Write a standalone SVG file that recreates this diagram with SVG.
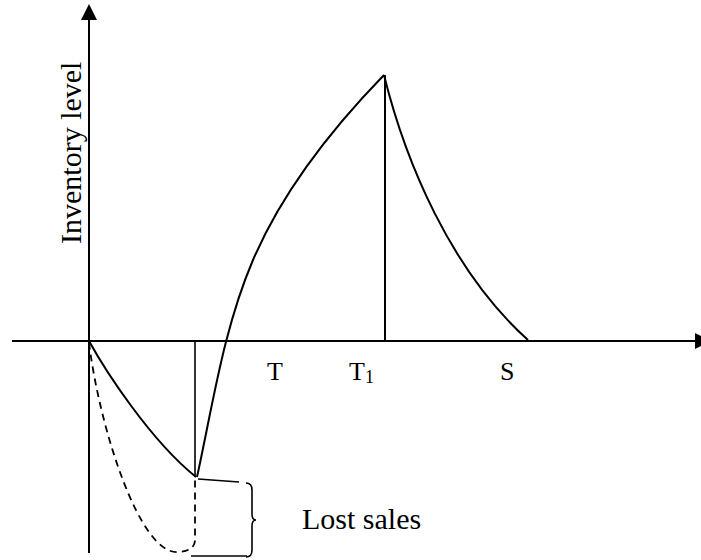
<svg xmlns="http://www.w3.org/2000/svg" width="701" height="560" viewBox="0 0 701 560">
<style>
.ln{fill:none;stroke:#000;stroke-width:2;stroke-linecap:butt}
.thin{fill:none;stroke:#000;stroke-width:1.6}
.dash{fill:none;stroke:#000;stroke-width:1.8;stroke-dasharray:7,5}
.lbl{font-family:"Liberation Serif","Times New Roman",serif;fill:#000}
</style>
<rect width="701" height="560" fill="#fff"/>
<g id="axes">
<path class="ln" d="M12,341 L695,341"/>
<path d="M695,333 L711,341 L695,349 Z" fill="#000"/>
<path class="ln" d="M89,553 L89,20"/>
<path d="M81,20 L89,4 L97,20 Z" fill="#000"/>
</g>
<g id="connectors">
<path class="ln" d="M89,341 C105,370 150,440 196,477"/>
<path class="dash" d="M89,343 C100,430 140,555 178,552 Q195,551 195,540 L195,478"/>
<path class="thin" d="M195,341 L195,477"/>
<path class="ln" d="M197,477 C213,404 223.5,329 253,260 C283,190 331,129.5 384,75"/>
<path class="ln" d="M385,75 L385,341"/>
<path class="ln" d="M384,75 C405,160 450,270 528,340"/>
<path class="thin" d="M198,479 L239,482"/>
<path class="thin" d="M191,556 L247,556"/>
<path class="thin" d="M246,483 Q252,483 252,490 L252,514 Q252,520 256,520 Q252,520 252,526 L252,550 Q252,557 246,557"/>
</g>
<g id="labels">
<text class="lbl" font-size="30" transform="translate(81,244) rotate(-90)">Inventory level</text>
<text class="lbl" font-size="26" x="267" y="380">T</text>
<text class="lbl" font-size="26" x="349" y="380">T<tspan font-size="18" dy="3">1</tspan></text>
<text class="lbl" font-size="26" x="500" y="380">S</text>
<text class="lbl" font-size="30" x="302" y="529">Lost sales</text>
</g>
</svg>
